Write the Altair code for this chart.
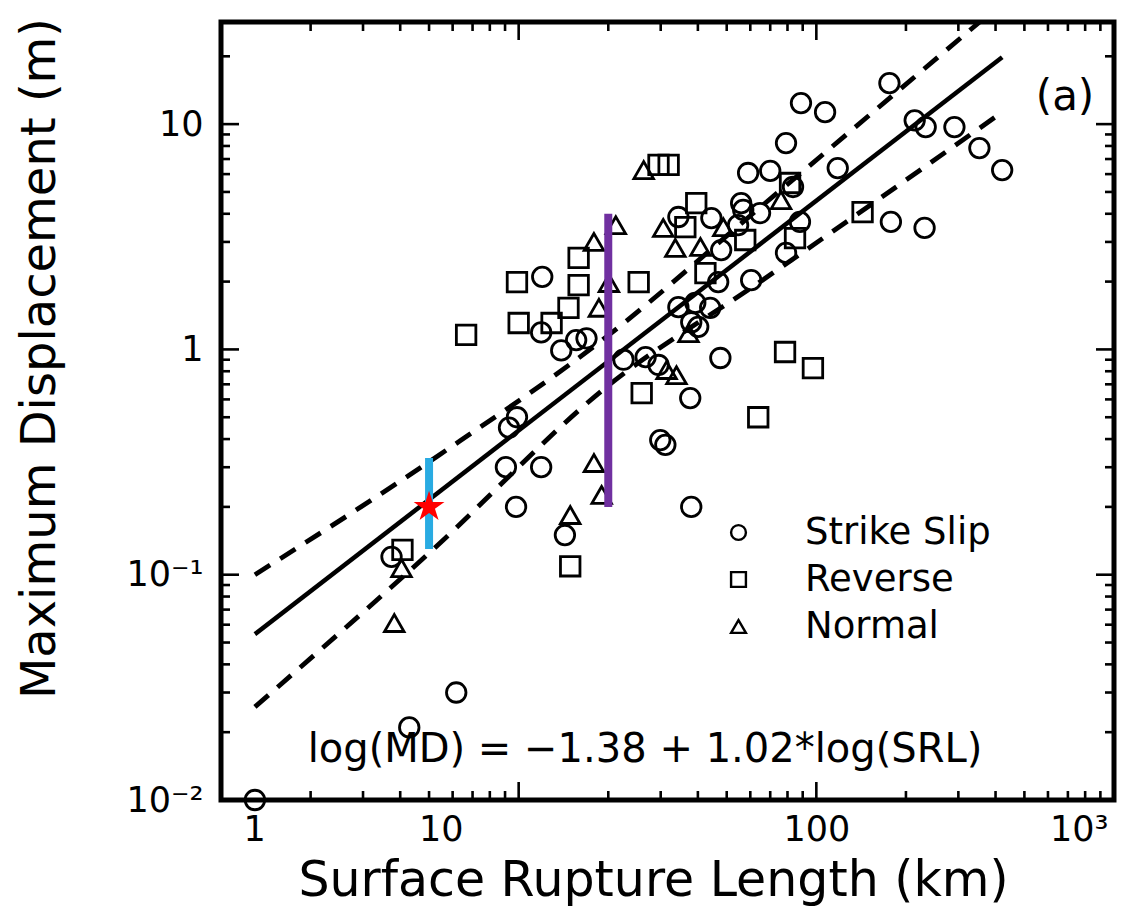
import altair as alt
import pandas as pd

# ---------------- data ----------------
# Strike slip (circles)
ss_srl = [1.30, 4.29, 6.17, 3.74, 9.8, 14.3, 9.06, 11.9, 9.87, 9.28, 11.9, 12.0, 13.9, 15.6, 16.9,
          22.5, 26.7, 29.5, 29.9, 31.1, 37.7, 38.0, 47.6, 34.4, 39.2, 44.0, 38.0, 40.1, 46.8, 60.4,
          79.1, 88.1, 34.4, 44.4, 56.8, 55.9, 64.7, 54.6, 47.9, 59.0, 70.0, 79.1, 83.5, 118, 88.8,
          107, 176, 214, 233, 291, 353, 421, 178, 231]
ss_md = [0.010, 0.021, 0.030, 0.120, 0.20, 0.150, 0.30, 0.30, 0.50, 0.45, 1.19, 2.10, 0.99, 1.10, 1.12,
         0.90, 0.925, 0.853, 0.396, 0.377, 0.608, 0.20, 0.916, 1.54, 1.61, 1.53, 1.32, 1.26, 1.99, 2.03,
         2.68, 3.68, 3.87, 3.83, 4.16, 4.46, 4.03, 3.56, 2.76, 6.07, 6.2, 8.24, 5.26, 6.38, 12.4,
         11.3, 15.2, 10.4, 9.7, 9.7, 7.83, 6.25, 3.68, 3.46]
# Reverse (squares)
rev_srl = [4.07, 6.66, 9.87, 10.0, 12.9, 14.7, 15.9, 15.9, 25.3, 25.9, 14.9, 29.5, 31.9, 39.5, 36.3,
           42.4, 57.7, 81.6, 84.8, 143, 78.5, 97.4, 63.8]
rev_md = [0.129, 1.16, 1.99, 1.31, 1.31, 1.53, 2.55, 1.93, 1.99, 0.64, 0.109, 6.59, 6.59, 4.46, 3.49,
          2.18, 3.06, 5.48, 3.12, 4.07, 0.974, 0.826, 0.50]
# Normal (triangles)
nor_srl = [3.82, 4.04, 14.9, 17.9, 19.0, 18.6, 20.1, 17.9, 21.2, 26.3, 30.6, 33.6, 40.8, 48.7, 76.1,
           37.2, 31.4, 33.9]
nor_md = [0.061, 0.107, 0.184, 0.313, 0.226, 1.53, 1.97, 3.00, 3.56, 6.25, 3.46, 2.82, 2.85, 3.49, 4.60,
          1.18, 0.81, 0.769]

types = ["Strike Slip", "Reverse", "Normal"]

# regression line and dashed bounds
fit_srl = [1.30, 421]
fit_md = [0.0545, 19.8]
upper_srl = [1.30, 5.41, 20.1, 63.8, 367]
upper_md = [0.100, 0.340, 1.16, 4.20, 29.6]
lower_srl = [1.30, 5.01, 20.1, 63.8, 421]
lower_md = [0.0259, 0.125, 0.695, 1.97, 11.3]

# coloured annotations
blue_srl, blue_lo, blue_hi = [5.0], [0.13], [0.33]
purple_srl, purple_lo, purple_hi = [20.0], [0.20], [4.0]
star_srl, star_md = [5.0], [0.20]

# axes
x_major = [1, 10, 100, 1000]
x_major_labels = ["1", "10", "100", "10³"]
x_minor = [2, 3, 4, 5, 6, 7, 8, 9, 20, 30, 40, 50, 60, 70, 80, 90, 200, 300, 400, 500, 600, 700, 800, 900]
y_major = [0.01, 0.1, 1, 10]
y_major_labels = ["10⁻²", "10⁻¹", "1", "10"]
y_minor = [0.02, 0.03, 0.04, 0.05, 0.06, 0.07, 0.08, 0.09, 0.2, 0.3, 0.4, 0.5, 0.6, 0.7, 0.8, 0.9,
           2, 3, 4, 5, 6, 7, 8, 9, 20]

equation = "log(MD) = −1.38 + 1.02*log(SRL)"
panel_tag = "(a)"

# ---------------- layout ----------------
FONT = "DejaVu Sans"
W, H = 893, 778
LEFT, TOP = 221, 22

pts = pd.DataFrame({
    "srl": ss_srl + rev_srl + nor_srl,
    "md": ss_md + rev_md + nor_md,
    "type": [types[0]] * len(ss_srl) + [types[1]] * len(rev_srl) + [types[2]] * len(nor_srl),
})

xs = alt.Scale(type="log", domain=[1, 1000], nice=False)
ys = alt.Scale(type="log", domain=[0.01, 28.4], nice=False)


def lab_expr(vals, labs):
    expr = "''"
    for v, l in zip(vals, labs):
        expr = f"(abs(datum.value - {v}) < {v} * 0.01) ? '{l}' : " + f"({expr})"
    return expr


x_label_offset = {
    "condition": [
        {"test": "abs(datum.value - 1) < 0.01", "value": 22},
        {"test": "abs(datum.value - 10) < 0.1", "value": -78},
        {"test": "abs(datum.value - 1000) < 10", "value": -6},
    ],
    "value": 0,
}

x_axis = alt.Axis(values=x_major, labelExpr=lab_expr(x_major, x_major_labels), ticks=False, domain=False,
                  grid=False, labelFontSize=35, labelFont=FONT, labelPadding=12, labelColor="black",
                  labelOffset=x_label_offset,
                  titleFontSize=49, titleFont=FONT, titleFontWeight="normal", titleColor="black",
                  titleX=432, titleY=80, titleBaseline="middle", titleAlign="center")
y_axis = alt.Axis(values=y_major, labelExpr=lab_expr(y_major, y_major_labels), ticks=False, domain=False,
                  grid=False, labelFontSize=35, labelFont=FONT, labelPadding=18, labelColor="black",
                  titleFontSize=48, titleFont=FONT, titleFontWeight="normal", titleColor="black",
                  titleX=-181, titleY=336, titleBaseline="middle", titleAlign="center")
XT = "Surface Rupture Length (km)"
YT = "Maximum Displacement (m)"


def X(field):
    return alt.X(f"{field}:Q", scale=xs, axis=x_axis, title=XT)


def Y(field):
    return alt.Y(f"{field}:Q", scale=ys, axis=y_axis, title=YT)


points = alt.Chart(pts).mark_point(filled=False, size=380, strokeWidth=2.8, color="black", opacity=1).encode(
    x=X("srl"), y=Y("md"),
    shape=alt.Shape("type:N", scale=alt.Scale(domain=types, range=["circle", "square", "triangle-up"]),
                    legend=alt.Legend(title=None, orient="none", legendX=499, legendY=492,
                                      labelFontSize=37, labelFont=FONT, labelColor="black", labelLimit=500,
                                      symbolSize=220, symbolStrokeWidth=2.4, symbolStrokeColor="black",
                                      labelOffset=48, rowPadding=9, padding=0)),
)

fit_df = pd.DataFrame({"srl": fit_srl, "md": fit_md})
up_df = pd.DataFrame({"srl": upper_srl, "md": upper_md})
lo_df = pd.DataFrame({"srl": lower_srl, "md": lower_md})

fit = alt.Chart(fit_df).mark_line(color="black", strokeWidth=4.5, clip=True).encode(x=X("srl"), y=Y("md"))
upper = alt.Chart(up_df).mark_line(color="black", strokeWidth=4.8, strokeDash=[18, 12], clip=True,
                                   interpolate="monotone").encode(x=X("srl"), y=Y("md"))
lower = alt.Chart(lo_df).mark_line(color="black", strokeWidth=4.8, strokeDash=[18, 12], clip=True,
                                   interpolate="monotone").encode(x=X("srl"), y=Y("md"))

blue = alt.Chart(pd.DataFrame({"srl": blue_srl, "lo": blue_lo, "hi": blue_hi})).mark_rule(
    color="#29ABE2", strokeWidth=8).encode(x=X("srl"), y=Y("lo"), y2="hi:Q")
purple = alt.Chart(pd.DataFrame({"srl": purple_srl, "lo": purple_lo, "hi": purple_hi})).mark_rule(
    color="#7030A0", strokeWidth=8).encode(x=X("srl"), y=Y("lo"), y2="hi:Q")
STAR = "M0,-1L0.2245,-0.309L0.9511,-0.309L0.3633,0.118L0.5878,0.809L0,0.382L-0.5878,0.809L-0.3633,0.118L-0.9511,-0.309L-0.2245,-0.309Z"
star = alt.Chart(pd.DataFrame({"srl": star_srl, "md": star_md})).mark_point(
    shape=STAR, filled=True, color="#FF0000", size=1050, opacity=1).encode(x=X("srl"), y=Y("md"))


# inward ticks on all four sides
def xticks(vals, ln):
    d = pd.DataFrame({"v": vals})
    b = alt.Chart(d).mark_rule(color="black", strokeWidth=2.6).encode(x=X("v"), y=alt.value(H), y2=alt.value(H - ln))
    t = alt.Chart(d).mark_rule(color="black", strokeWidth=2.6).encode(x=X("v"), y=alt.value(0), y2=alt.value(ln))
    return [b, t]


def yticks(vals, ln):
    d = pd.DataFrame({"v": vals})
    l = alt.Chart(d).mark_rule(color="black", strokeWidth=2.6).encode(y=Y("v"), x=alt.value(0), x2=alt.value(ln))
    r = alt.Chart(d).mark_rule(color="black", strokeWidth=2.6).encode(y=Y("v"), x=alt.value(W), x2=alt.value(W - ln))
    return [l, r]


ticks = xticks(x_major, 18) + xticks(x_minor, 9) + yticks(y_major, 18) + yticks(y_minor, 9)

frame = alt.Chart(pd.DataFrame({"f": [0]})).mark_rect(
    fillOpacity=0, stroke="black", strokeWidth=5).encode(
    x=alt.value(0), x2=alt.value(W), y=alt.value(0), y2=alt.value(H))

eq = alt.Chart(pd.DataFrame({"t": [equation]})).mark_text(
    font=FONT, fontSize=40, color="black", align="center", baseline="middle").encode(
    text="t:N", x=alt.value(645 - LEFT), y=alt.value(750 - TOP))
tag = alt.Chart(pd.DataFrame({"t": [panel_tag]})).mark_text(
    font=FONT, fontSize=42, color="black", align="center", baseline="middle").encode(
    text="t:N", x=alt.value(1065 - LEFT), y=alt.value(97 - TOP))

chart = alt.layer(*ticks, upper, lower, fit, points, blue, purple, star, eq, tag, frame).properties(
    width=W, height=H,
    padding={"left": LEFT, "top": TOP, "right": 1126 - LEFT - W, "bottom": 919 - TOP - H},
    autosize="none",
    background="white",
).configure_view(stroke=None)

chart.save("out.html", embed_options={"renderer": "svg", "actions": False})
